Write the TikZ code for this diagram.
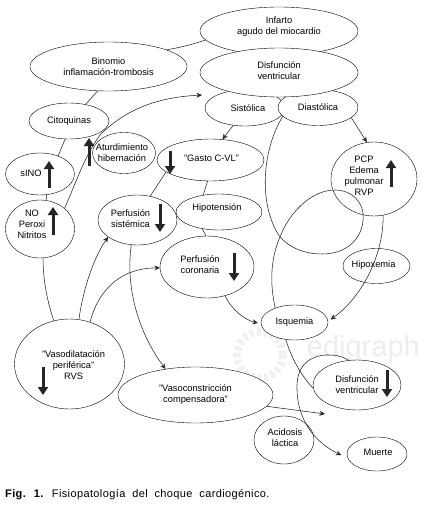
\documentclass[tikz,border=0pt]{standalone}
\usepackage{fontspec}
\setmainfont{Liberation Sans}
\newfontfamily\piefont[LetterSpace=3.5,WordSpace=2]{Liberation Sans}
\usetikzlibrary{shapes.geometric,arrows.meta}
\tikzset{
  oval/.style={ellipse,draw,fill=white,inner sep=0pt,align=center},
  txt/.style={align=center,inner sep=0pt},
  line/.style={line width=0.55pt,black!85},
  tip/.style={line,-{Stealth[length=5.5pt,width=5pt]}},
  bigup/.style={line width=3pt,black!85,-{Triangle[length=8pt,width=10pt]}},
}
\begin{document}
\begin{tikzpicture}[x=1pt,y=-1pt,every node/.style={font=\fontsize{9.3}{11}\selectfont},
  every label/.style={txt}]
  \useasboundingbox (0,0) rectangle (421,506);
  % watermark
  \draw[black!6,line width=8pt,dash pattern=on 4pt off 3pt] (260,355) circle (23);
  \node[txt,black!7,anchor=east] (mark) at (420,349) {\fontsize{29}{29}\selectfont edigraph};

  % top ovals
  \node[oval,minimum width=80,minimum height=36,label={[xshift=3pt]center:Sistólica}] (sist) at (245,108) {};
  \node[oval,minimum width=80,minimum height=36] (diast) at (318,107.5) {Diastólica};
  \node[oval,minimum width=158,minimum height=48,label={[yshift=4.5pt]center:Infarto\\agudo del miocardio}] (iam) at (279,31) {};
  \node[oval,minimum width=158,minimum height=49,label={[yshift=1.5pt]center:Disfunción\\ventricular}] (dv) at (279,72.5) {};
  \node[oval,minimum width=157,minimum height=49] (binom) at (108.5,66.5) {Binomio\\inflamación-trombosis};

  % left column
  \node[oval,minimum width=80,minimum height=36] (cito) at (69,121) {Citoquinas};
  \node[oval,minimum width=63,minimum height=41,label={[xshift=-2pt]center:Aturdimiento\\hibernación}] (atur) at (124,153) {};
  \node[oval,minimum width=69,minimum height=42,label={[xshift=-9pt,yshift=1pt]center:sINO}] (sino) at (40,174) {};
  \node[oval,minimum width=69,minimum height=58,label={[xshift=-8pt,yshift=5pt]center:NO\\Peroxi\\Nitritos}] (no) at (40,229) {};
  \node[oval,minimum width=110,minimum height=90,label={[xshift=4pt,yshift=-1pt]center:"Vasodilatación\\periférica"\\RVS}] (vaso) at (69.5,364) {};

  % middle
  \node[oval,minimum width=107,minimum height=42,label={[xshift=1pt,yshift=2pt]center:"Gasto C-VL"}] (gasto) at (210.5,160) {};
  \node[oval,minimum width=79,minimum height=50,label={[xshift=-7pt,yshift=1pt]center:Perfusión\\sistémica}] (psis) at (137.5,220) {};
  \node[oval,minimum width=86,minimum height=36,label={[xshift=-2pt,yshift=4pt]center:Hipotensión}] (hipo) at (219,212) {};
  \node[oval,minimum width=94,minimum height=62,label={[xshift=-7pt,yshift=2pt]center:Perfusión\\coronaria}] (pcor) at (207,267) {};
  \node[oval,minimum width=155,minimum height=56] (vcon) at (195.5,395) {"Vasoconstricción\\compensadora"};

  % right
  \node[oval,minimum width=86,minimum height=74,label={[xshift=-10pt,yshift=3pt]center:PCP\\Edema\\pulmonar\\RVP}] (pcp) at (374,179) {};
  \node[oval,minimum width=67,minimum height=35,label={[xshift=-3pt,yshift=1pt]center:Hipoxemia}] (hipox) at (376.5,266) {};
  \node[oval,minimum width=67,minimum height=35] (isq) at (294.5,322.5) {Isquemia};
  \node[oval,minimum width=88,minimum height=50] (dvb) at (357,385) {Disfunción\\ventricular};
  \node[oval,minimum width=60,minimum height=48,label={[xshift=1pt,yshift=2pt]center:Acidosis\\láctica}] (acid) at (284,440) {};
  \node[oval,minimum width=60,minimum height=34,label={[xshift=1pt,yshift=2pt]center:Muerte}] (muerte) at (377,454) {};

  % free ends
  \coordinate (fin1) at (202,95);
  \coordinate (fin2) at (325,414);

  % connectors
  \draw[line] (binom.16) to[bend right=4] (iam.187);
  \draw[line] (binom.246) -- (cito.45);
  \draw[line] (cito.258) -- (sino.45);
  \draw[line] (sino.288) -- (no.78);
  \draw[tip] (no.40) .. controls (75,185) and (85,155) .. (100,135) .. controls (130,105) and (165,97) .. (fin1);
  \draw[line] (no.276) .. controls (43,280) and (47,300) .. (vaso.110);
  \draw[tip] (vaso.78) .. controls (82,295) and (92,260) .. (psis.210);
  \draw[tip] (vaso.64) .. controls (100,285) and (125,268) .. (pcor.181);
  \draw[tip] (psis.256) .. controls (125,290) and (140,335) .. (vcon.139);
  \draw[line] (gasto.195) -- (psis.62);
  \draw[line] (gasto.262) -- (hipo.133);
  \draw[line] (hipo.225) -- (pcor.92);
  \draw[tip] (sist.236) -- (gasto.60);
  \draw[tip] (diast.343) -- (pcp.101);
  \draw[tip,shorten >=3pt] (pcor.302) .. controls (232,310) and (245,320) .. (isq.182);
  \draw[line] (diast.194) .. controls (262,150) and (258,205) .. (280,237)
    .. controls (292,250) and (308,254) .. (322,254)
    .. controls (350,254) and (365,235) .. (363,213)
    .. controls (360,195) and (345,190) .. (335,190)
    .. controls (310,190) and (288,215) .. (280,237)
    .. controls (270,260) and (270,285) .. (isq.143);
  \draw[tip,shorten >=3pt] (pcp.284) .. controls (384,250) and (365,295) .. (isq.2);
  \draw[line] (isq.243) .. controls (292,360) and (303,378) .. (dvb.184);
  \draw[tip,shorten >=7pt] (dvb.109) .. controls (340,355) and (335,355) .. (325,355)
    .. controls (305,357) and (296,370) .. (297,390)
    .. controls (298,425) and (320,445) .. (muerte.188);
  \draw[tip] (vcon.351) -- (fin2);

  % thick arrows
  \draw[bigup] (49,188) -- (49,161);
  \draw[bigup] (53,235) -- (53,207);
  \draw[bigup] (89,166) -- (89,138);
  \draw[bigup] (170,151) -- (170,174);
  \draw[bigup] (160,204) -- (160,232);
  \draw[bigup] (234,253) -- (234,281);
  \draw[bigup] (391,187) -- (391,160);
  \draw[bigup] (43,367) -- (43,395);
  \draw[bigup] (387,370) -- (387,397);

  \node[txt,anchor=west] (pie) at (5,494.5) {\fontsize{11}{13}\piefont\textbf{Fig. 1.} Fisiopatología del choque cardiogénico.};
\end{tikzpicture}
\end{document}
